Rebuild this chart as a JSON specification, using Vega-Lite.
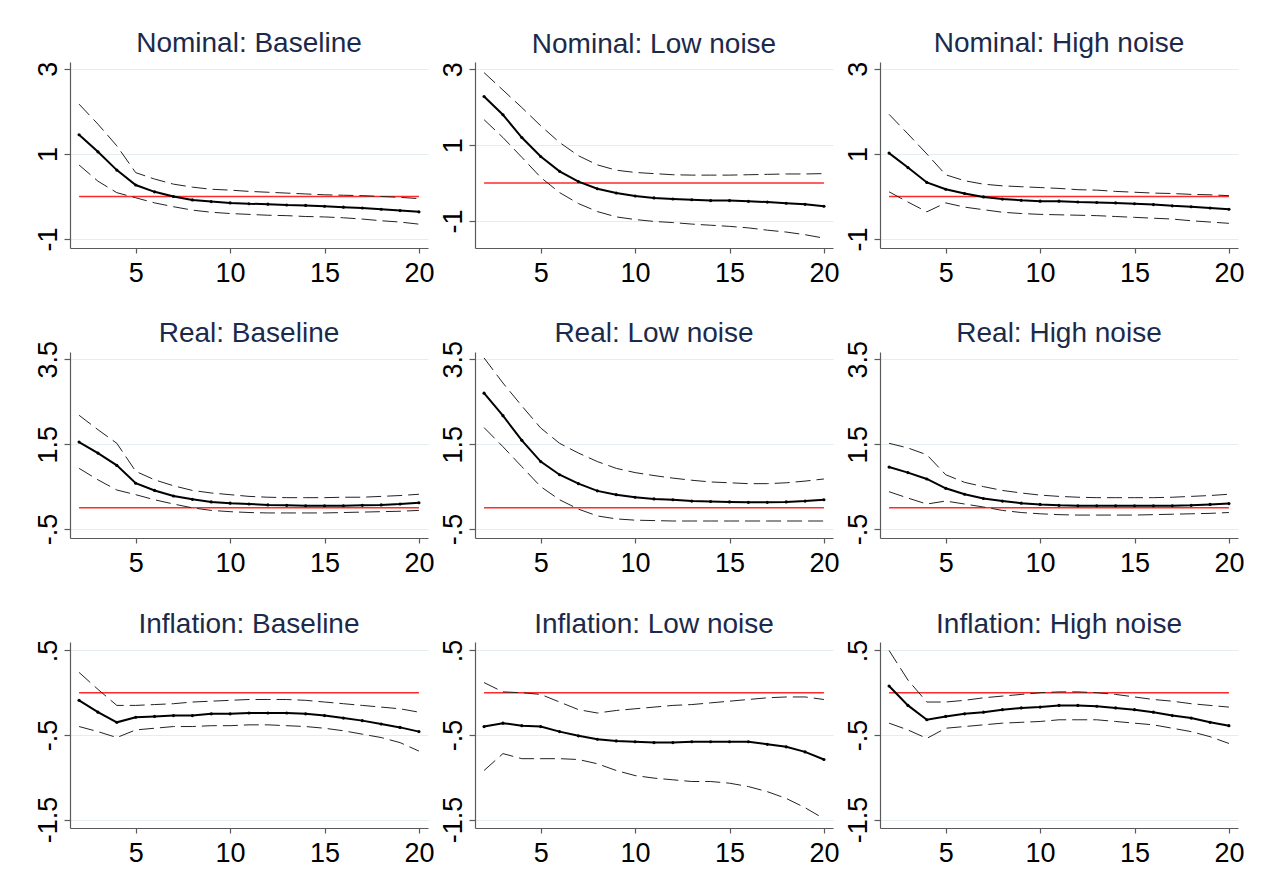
{
  "$schema": "https://vega.github.io/schema/vega-lite/v6.json",
  "padding": {"left": 34, "top": 30, "right": 10, "bottom": 5},
  "background": "white",
  "datasets": {
    "irf": [
      {"panel":"Nominal: Baseline","h":2,"est":1.45,"lo":0.74,"hi":2.17},
      {"panel":"Nominal: Baseline","h":3,"est":1.05,"lo":0.36,"hi":1.70},
      {"panel":"Nominal: Baseline","h":4,"est":0.62,"lo":0.09,"hi":1.19},
      {"panel":"Nominal: Baseline","h":5,"est":0.27,"lo":-0.03,"hi":0.56},
      {"panel":"Nominal: Baseline","h":6,"est":0.11,"lo":-0.15,"hi":0.41},
      {"panel":"Nominal: Baseline","h":7,"est":0.00,"lo":-0.24,"hi":0.29},
      {"panel":"Nominal: Baseline","h":8,"est":-0.08,"lo":-0.32,"hi":0.22},
      {"panel":"Nominal: Baseline","h":9,"est":-0.12,"lo":-0.37,"hi":0.17},
      {"panel":"Nominal: Baseline","h":10,"est":-0.15,"lo":-0.40,"hi":0.15},
      {"panel":"Nominal: Baseline","h":11,"est":-0.17,"lo":-0.42,"hi":0.12},
      {"panel":"Nominal: Baseline","h":12,"est":-0.18,"lo":-0.44,"hi":0.10},
      {"panel":"Nominal: Baseline","h":13,"est":-0.20,"lo":-0.45,"hi":0.08},
      {"panel":"Nominal: Baseline","h":14,"est":-0.21,"lo":-0.47,"hi":0.06},
      {"panel":"Nominal: Baseline","h":15,"est":-0.23,"lo":-0.48,"hi":0.04},
      {"panel":"Nominal: Baseline","h":16,"est":-0.25,"lo":-0.50,"hi":0.03},
      {"panel":"Nominal: Baseline","h":17,"est":-0.27,"lo":-0.53,"hi":0.02},
      {"panel":"Nominal: Baseline","h":18,"est":-0.30,"lo":-0.57,"hi":0.00},
      {"panel":"Nominal: Baseline","h":19,"est":-0.33,"lo":-0.60,"hi":-0.02},
      {"panel":"Nominal: Baseline","h":20,"est":-0.36,"lo":-0.65,"hi":-0.05},

      {"panel":"Nominal: Low noise","h":2,"est":2.28,"lo":1.67,"hi":2.91},
      {"panel":"Nominal: Low noise","h":3,"est":1.80,"lo":1.20,"hi":2.45},
      {"panel":"Nominal: Low noise","h":4,"est":1.20,"lo":0.68,"hi":1.99},
      {"panel":"Nominal: Low noise","h":5,"est":0.70,"lo":0.15,"hi":1.51},
      {"panel":"Nominal: Low noise","h":6,"est":0.31,"lo":-0.25,"hi":1.07},
      {"panel":"Nominal: Low noise","h":7,"est":0.04,"lo":-0.54,"hi":0.72},
      {"panel":"Nominal: Low noise","h":8,"est":-0.15,"lo":-0.75,"hi":0.48},
      {"panel":"Nominal: Low noise","h":9,"est":-0.26,"lo":-0.89,"hi":0.34},
      {"panel":"Nominal: Low noise","h":10,"est":-0.34,"lo":-0.96,"hi":0.28},
      {"panel":"Nominal: Low noise","h":11,"est":-0.39,"lo":-1.01,"hi":0.25},
      {"panel":"Nominal: Low noise","h":12,"est":-0.42,"lo":-1.04,"hi":0.22},
      {"panel":"Nominal: Low noise","h":13,"est":-0.44,"lo":-1.08,"hi":0.21},
      {"panel":"Nominal: Low noise","h":14,"est":-0.46,"lo":-1.11,"hi":0.21},
      {"panel":"Nominal: Low noise","h":15,"est":-0.46,"lo":-1.14,"hi":0.21},
      {"panel":"Nominal: Low noise","h":16,"est":-0.48,"lo":-1.18,"hi":0.22},
      {"panel":"Nominal: Low noise","h":17,"est":-0.50,"lo":-1.24,"hi":0.23},
      {"panel":"Nominal: Low noise","h":18,"est":-0.53,"lo":-1.29,"hi":0.24},
      {"panel":"Nominal: Low noise","h":19,"est":-0.56,"lo":-1.36,"hi":0.24},
      {"panel":"Nominal: Low noise","h":20,"est":-0.61,"lo":-1.45,"hi":0.25},

      {"panel":"Nominal: High noise","h":2,"est":1.02,"lo":0.11,"hi":1.93},
      {"panel":"Nominal: High noise","h":3,"est":0.68,"lo":-0.13,"hi":1.47},
      {"panel":"Nominal: High noise","h":4,"est":0.33,"lo":-0.36,"hi":1.00},
      {"panel":"Nominal: High noise","h":5,"est":0.17,"lo":-0.15,"hi":0.51},
      {"panel":"Nominal: High noise","h":6,"est":0.07,"lo":-0.25,"hi":0.37},
      {"panel":"Nominal: High noise","h":7,"est":-0.01,"lo":-0.31,"hi":0.29},
      {"panel":"Nominal: High noise","h":8,"est":-0.06,"lo":-0.37,"hi":0.25},
      {"panel":"Nominal: High noise","h":9,"est":-0.09,"lo":-0.40,"hi":0.23},
      {"panel":"Nominal: High noise","h":10,"est":-0.11,"lo":-0.42,"hi":0.21},
      {"panel":"Nominal: High noise","h":11,"est":-0.11,"lo":-0.43,"hi":0.19},
      {"panel":"Nominal: High noise","h":12,"est":-0.13,"lo":-0.44,"hi":0.16},
      {"panel":"Nominal: High noise","h":13,"est":-0.14,"lo":-0.45,"hi":0.15},
      {"panel":"Nominal: High noise","h":14,"est":-0.15,"lo":-0.47,"hi":0.12},
      {"panel":"Nominal: High noise","h":15,"est":-0.17,"lo":-0.49,"hi":0.10},
      {"panel":"Nominal: High noise","h":16,"est":-0.19,"lo":-0.51,"hi":0.08},
      {"panel":"Nominal: High noise","h":17,"est":-0.22,"lo":-0.53,"hi":0.07},
      {"panel":"Nominal: High noise","h":18,"est":-0.24,"lo":-0.57,"hi":0.05},
      {"panel":"Nominal: High noise","h":19,"est":-0.27,"lo":-0.60,"hi":0.04},
      {"panel":"Nominal: High noise","h":20,"est":-0.30,"lo":-0.63,"hi":0.02},

      {"panel":"Real: Baseline","h":2,"est":1.55,"lo":0.93,"hi":2.18},
      {"panel":"Real: Baseline","h":3,"est":1.29,"lo":0.66,"hi":1.84},
      {"panel":"Real: Baseline","h":4,"est":1.00,"lo":0.42,"hi":1.52},
      {"panel":"Real: Baseline","h":5,"est":0.58,"lo":0.31,"hi":0.86},
      {"panel":"Real: Baseline","h":6,"est":0.41,"lo":0.19,"hi":0.66},
      {"panel":"Real: Baseline","h":7,"est":0.28,"lo":0.09,"hi":0.52},
      {"panel":"Real: Baseline","h":8,"est":0.20,"lo":0.00,"hi":0.41},
      {"panel":"Real: Baseline","h":9,"est":0.14,"lo":-0.06,"hi":0.35},
      {"panel":"Real: Baseline","h":10,"est":0.11,"lo":-0.09,"hi":0.31},
      {"panel":"Real: Baseline","h":11,"est":0.09,"lo":-0.11,"hi":0.27},
      {"panel":"Real: Baseline","h":12,"est":0.07,"lo":-0.12,"hi":0.25},
      {"panel":"Real: Baseline","h":13,"est":0.06,"lo":-0.12,"hi":0.24},
      {"panel":"Real: Baseline","h":14,"est":0.05,"lo":-0.12,"hi":0.24},
      {"panel":"Real: Baseline","h":15,"est":0.05,"lo":-0.12,"hi":0.24},
      {"panel":"Real: Baseline","h":16,"est":0.05,"lo":-0.11,"hi":0.25},
      {"panel":"Real: Baseline","h":17,"est":0.06,"lo":-0.10,"hi":0.25},
      {"panel":"Real: Baseline","h":18,"est":0.07,"lo":-0.09,"hi":0.27},
      {"panel":"Real: Baseline","h":19,"est":0.09,"lo":-0.08,"hi":0.29},
      {"panel":"Real: Baseline","h":20,"est":0.12,"lo":-0.06,"hi":0.32},

      {"panel":"Real: Low noise","h":2,"est":2.70,"lo":1.89,"hi":3.53},
      {"panel":"Real: Low noise","h":3,"est":2.17,"lo":1.44,"hi":2.94},
      {"panel":"Real: Low noise","h":4,"est":1.59,"lo":0.97,"hi":2.40},
      {"panel":"Real: Low noise","h":5,"est":1.09,"lo":0.50,"hi":1.88},
      {"panel":"Real: Low noise","h":6,"est":0.78,"lo":0.19,"hi":1.52},
      {"panel":"Real: Low noise","h":7,"est":0.57,"lo":-0.03,"hi":1.29},
      {"panel":"Real: Low noise","h":8,"est":0.40,"lo":-0.19,"hi":1.09},
      {"panel":"Real: Low noise","h":9,"est":0.31,"lo":-0.26,"hi":0.93},
      {"panel":"Real: Low noise","h":10,"est":0.25,"lo":-0.29,"hi":0.83},
      {"panel":"Real: Low noise","h":11,"est":0.21,"lo":-0.30,"hi":0.76},
      {"panel":"Real: Low noise","h":12,"est":0.19,"lo":-0.31,"hi":0.70},
      {"panel":"Real: Low noise","h":13,"est":0.16,"lo":-0.31,"hi":0.65},
      {"panel":"Real: Low noise","h":14,"est":0.15,"lo":-0.31,"hi":0.61},
      {"panel":"Real: Low noise","h":15,"est":0.14,"lo":-0.31,"hi":0.59},
      {"panel":"Real: Low noise","h":16,"est":0.13,"lo":-0.31,"hi":0.57},
      {"panel":"Real: Low noise","h":17,"est":0.13,"lo":-0.31,"hi":0.57},
      {"panel":"Real: Low noise","h":18,"est":0.14,"lo":-0.31,"hi":0.59},
      {"panel":"Real: Low noise","h":19,"est":0.16,"lo":-0.31,"hi":0.63},
      {"panel":"Real: Low noise","h":20,"est":0.19,"lo":-0.31,"hi":0.68},

      {"panel":"Real: High noise","h":2,"est":0.96,"lo":0.38,"hi":1.52},
      {"panel":"Real: High noise","h":3,"est":0.83,"lo":0.23,"hi":1.41},
      {"panel":"Real: High noise","h":4,"est":0.68,"lo":0.09,"hi":1.25},
      {"panel":"Real: High noise","h":5,"est":0.46,"lo":0.16,"hi":0.78},
      {"panel":"Real: High noise","h":6,"est":0.32,"lo":0.09,"hi":0.60},
      {"panel":"Real: High noise","h":7,"est":0.22,"lo":0.02,"hi":0.50},
      {"panel":"Real: High noise","h":8,"est":0.16,"lo":-0.06,"hi":0.41},
      {"panel":"Real: High noise","h":9,"est":0.11,"lo":-0.11,"hi":0.35},
      {"panel":"Real: High noise","h":10,"est":0.08,"lo":-0.14,"hi":0.30},
      {"panel":"Real: High noise","h":11,"est":0.06,"lo":-0.16,"hi":0.27},
      {"panel":"Real: High noise","h":12,"est":0.05,"lo":-0.17,"hi":0.25},
      {"panel":"Real: High noise","h":13,"est":0.05,"lo":-0.17,"hi":0.24},
      {"panel":"Real: High noise","h":14,"est":0.05,"lo":-0.17,"hi":0.24},
      {"panel":"Real: High noise","h":15,"est":0.05,"lo":-0.17,"hi":0.24},
      {"panel":"Real: High noise","h":16,"est":0.05,"lo":-0.16,"hi":0.24},
      {"panel":"Real: High noise","h":17,"est":0.05,"lo":-0.15,"hi":0.25},
      {"panel":"Real: High noise","h":18,"est":0.06,"lo":-0.14,"hi":0.27},
      {"panel":"Real: High noise","h":19,"est":0.08,"lo":-0.13,"hi":0.29},
      {"panel":"Real: High noise","h":20,"est":0.10,"lo":-0.11,"hi":0.32},

      {"panel":"Inflation: Baseline","h":2,"est":-0.09,"lo":-0.40,"hi":0.24},
      {"panel":"Inflation: Baseline","h":3,"est":-0.23,"lo":-0.46,"hi":0.04},
      {"panel":"Inflation: Baseline","h":4,"est":-0.35,"lo":-0.53,"hi":-0.15},
      {"panel":"Inflation: Baseline","h":5,"est":-0.29,"lo":-0.44,"hi":-0.15},
      {"panel":"Inflation: Baseline","h":6,"est":-0.28,"lo":-0.42,"hi":-0.14},
      {"panel":"Inflation: Baseline","h":7,"est":-0.27,"lo":-0.40,"hi":-0.13},
      {"panel":"Inflation: Baseline","h":8,"est":-0.27,"lo":-0.40,"hi":-0.11},
      {"panel":"Inflation: Baseline","h":9,"est":-0.25,"lo":-0.39,"hi":-0.10},
      {"panel":"Inflation: Baseline","h":10,"est":-0.25,"lo":-0.39,"hi":-0.09},
      {"panel":"Inflation: Baseline","h":11,"est":-0.24,"lo":-0.38,"hi":-0.08},
      {"panel":"Inflation: Baseline","h":12,"est":-0.24,"lo":-0.38,"hi":-0.08},
      {"panel":"Inflation: Baseline","h":13,"est":-0.24,"lo":-0.39,"hi":-0.08},
      {"panel":"Inflation: Baseline","h":14,"est":-0.25,"lo":-0.40,"hi":-0.09},
      {"panel":"Inflation: Baseline","h":15,"est":-0.27,"lo":-0.42,"hi":-0.11},
      {"panel":"Inflation: Baseline","h":16,"est":-0.30,"lo":-0.45,"hi":-0.13},
      {"panel":"Inflation: Baseline","h":17,"est":-0.33,"lo":-0.49,"hi":-0.15},
      {"panel":"Inflation: Baseline","h":18,"est":-0.37,"lo":-0.53,"hi":-0.17},
      {"panel":"Inflation: Baseline","h":19,"est":-0.41,"lo":-0.59,"hi":-0.19},
      {"panel":"Inflation: Baseline","h":20,"est":-0.46,"lo":-0.69,"hi":-0.23},

      {"panel":"Inflation: Low noise","h":2,"est":-0.40,"lo":-0.92,"hi":0.12},
      {"panel":"Inflation: Low noise","h":3,"est":-0.36,"lo":-0.72,"hi":0.01},
      {"panel":"Inflation: Low noise","h":4,"est":-0.39,"lo":-0.78,"hi":0.00},
      {"panel":"Inflation: Low noise","h":5,"est":-0.40,"lo":-0.78,"hi":-0.02},
      {"panel":"Inflation: Low noise","h":6,"est":-0.46,"lo":-0.78,"hi":-0.11},
      {"panel":"Inflation: Low noise","h":7,"est":-0.51,"lo":-0.79,"hi":-0.20},
      {"panel":"Inflation: Low noise","h":8,"est":-0.55,"lo":-0.84,"hi":-0.24},
      {"panel":"Inflation: Low noise","h":9,"est":-0.57,"lo":-0.92,"hi":-0.21},
      {"panel":"Inflation: Low noise","h":10,"est":-0.58,"lo":-0.98,"hi":-0.19},
      {"panel":"Inflation: Low noise","h":11,"est":-0.59,"lo":-1.01,"hi":-0.17},
      {"panel":"Inflation: Low noise","h":12,"est":-0.59,"lo":-1.03,"hi":-0.15},
      {"panel":"Inflation: Low noise","h":13,"est":-0.58,"lo":-1.05,"hi":-0.14},
      {"panel":"Inflation: Low noise","h":14,"est":-0.58,"lo":-1.05,"hi":-0.12},
      {"panel":"Inflation: Low noise","h":15,"est":-0.58,"lo":-1.07,"hi":-0.10},
      {"panel":"Inflation: Low noise","h":16,"est":-0.58,"lo":-1.11,"hi":-0.08},
      {"panel":"Inflation: Low noise","h":17,"est":-0.61,"lo":-1.17,"hi":-0.06},
      {"panel":"Inflation: Low noise","h":18,"est":-0.64,"lo":-1.25,"hi":-0.05},
      {"panel":"Inflation: Low noise","h":19,"est":-0.70,"lo":-1.36,"hi":-0.05},
      {"panel":"Inflation: Low noise","h":20,"est":-0.79,"lo":-1.49,"hi":-0.08},

      {"panel":"Inflation: High noise","h":2,"est":0.08,"lo":-0.36,"hi":0.50},
      {"panel":"Inflation: High noise","h":3,"est":-0.15,"lo":-0.44,"hi":0.15},
      {"panel":"Inflation: High noise","h":4,"est":-0.32,"lo":-0.54,"hi":-0.11},
      {"panel":"Inflation: High noise","h":5,"est":-0.28,"lo":-0.42,"hi":-0.11},
      {"panel":"Inflation: High noise","h":6,"est":-0.25,"lo":-0.40,"hi":-0.09},
      {"panel":"Inflation: High noise","h":7,"est":-0.23,"lo":-0.38,"hi":-0.06},
      {"panel":"Inflation: High noise","h":8,"est":-0.20,"lo":-0.36,"hi":-0.04},
      {"panel":"Inflation: High noise","h":9,"est":-0.18,"lo":-0.35,"hi":-0.02},
      {"panel":"Inflation: High noise","h":10,"est":-0.17,"lo":-0.34,"hi":0.00},
      {"panel":"Inflation: High noise","h":11,"est":-0.15,"lo":-0.32,"hi":0.01},
      {"panel":"Inflation: High noise","h":12,"est":-0.15,"lo":-0.32,"hi":0.01},
      {"panel":"Inflation: High noise","h":13,"est":-0.16,"lo":-0.32,"hi":0.00},
      {"panel":"Inflation: High noise","h":14,"est":-0.18,"lo":-0.34,"hi":-0.02},
      {"panel":"Inflation: High noise","h":15,"est":-0.20,"lo":-0.36,"hi":-0.05},
      {"panel":"Inflation: High noise","h":16,"est":-0.23,"lo":-0.38,"hi":-0.08},
      {"panel":"Inflation: High noise","h":17,"est":-0.27,"lo":-0.42,"hi":-0.10},
      {"panel":"Inflation: High noise","h":18,"est":-0.30,"lo":-0.46,"hi":-0.13},
      {"panel":"Inflation: High noise","h":19,"est":-0.35,"lo":-0.52,"hi":-0.15},
      {"panel":"Inflation: High noise","h":20,"est":-0.39,"lo":-0.60,"hi":-0.17}
    ]
  },
  "data": {"name": "irf"},
  "columns": 3,
  "bounds": "flush",
  "spacing": {"row": 104, "column": 47},
  "concat": [
    {
      "title": {"text": "Nominal: Baseline", "offset": 3},
      "width": 358, "height": 186,
      "transform": [{"filter": "datum.panel === 'Nominal: Baseline'"}],
      "encoding": {"x": {"field": "h", "type": "quantitative", "title": null, "scale": {"domain": [1.52, 20.48], "nice": false, "zero": false}, "axis": {"values": [5, 10, 15, 20]}}},
      "layer": [
        {"mark": {"type": "rule", "color": "#ff2a2a", "strokeWidth": 1.5}, "encoding": {"x": {"aggregate": "min", "field": "h", "type": "quantitative", "title": null}, "x2": {"aggregate": "max", "field": "h"}, "y": {"datum": 0, "type": "quantitative"}}},
        {"mark": {"type": "line", "color": "#222", "strokeWidth": 1, "strokeDash": [15, 6]}, "encoding": {"y": {"field": "hi", "type": "quantitative", "title": null, "scale": {"domain": [-1.21, 3.16], "nice": false, "zero": false}, "axis": {"values": [-1, 1, 3]}}}},
        {"mark": {"type": "line", "color": "#222", "strokeWidth": 1, "strokeDash": [15, 6]}, "encoding": {"y": {"field": "lo", "type": "quantitative", "title": null, "scale": {"domain": [-1.21, 3.16], "nice": false, "zero": false}, "axis": {"values": [-1, 1, 3]}}}},
        {"mark": {"type": "line", "color": "#000", "strokeWidth": 2, "point": {"filled": true, "size": 10, "color": "#000"}}, "encoding": {"y": {"field": "est", "type": "quantitative", "title": null, "scale": {"domain": [-1.21, 3.16], "nice": false, "zero": false}, "axis": {"values": [-1, 1, 3]}}}}
      ]
    },
    {
      "title": {"text": "Nominal: Low noise", "offset": 3},
      "width": 358, "height": 186,
      "transform": [{"filter": "datum.panel === 'Nominal: Low noise'"}],
      "encoding": {"x": {"field": "h", "type": "quantitative", "title": null, "scale": {"domain": [1.52, 20.48], "nice": false, "zero": false}, "axis": {"values": [5, 10, 15, 20]}}},
      "layer": [
        {"mark": {"type": "rule", "color": "#ff2a2a", "strokeWidth": 1.5}, "encoding": {"x": {"aggregate": "min", "field": "h", "type": "quantitative", "title": null}, "x2": {"aggregate": "max", "field": "h"}, "y": {"datum": 0, "type": "quantitative"}}},
        {"mark": {"type": "line", "color": "#222", "strokeWidth": 1, "strokeDash": [15, 6]}, "encoding": {"y": {"field": "hi", "type": "quantitative", "title": null, "scale": {"domain": [-1.71, 3.19], "nice": false, "zero": false}, "axis": {"values": [-1, 1, 3]}}}},
        {"mark": {"type": "line", "color": "#222", "strokeWidth": 1, "strokeDash": [15, 6]}, "encoding": {"y": {"field": "lo", "type": "quantitative", "title": null, "scale": {"domain": [-1.71, 3.19], "nice": false, "zero": false}, "axis": {"values": [-1, 1, 3]}}}},
        {"mark": {"type": "line", "color": "#000", "strokeWidth": 2, "point": {"filled": true, "size": 10, "color": "#000"}}, "encoding": {"y": {"field": "est", "type": "quantitative", "title": null, "scale": {"domain": [-1.71, 3.19], "nice": false, "zero": false}, "axis": {"values": [-1, 1, 3]}}}}
      ]
    },
    {
      "title": {"text": "Nominal: High noise", "offset": 3},
      "width": 358, "height": 186,
      "transform": [{"filter": "datum.panel === 'Nominal: High noise'"}],
      "encoding": {"x": {"field": "h", "type": "quantitative", "title": null, "scale": {"domain": [1.52, 20.48], "nice": false, "zero": false}, "axis": {"values": [5, 10, 15, 20]}}},
      "layer": [
        {"mark": {"type": "rule", "color": "#ff2a2a", "strokeWidth": 1.5}, "encoding": {"x": {"aggregate": "min", "field": "h", "type": "quantitative", "title": null}, "x2": {"aggregate": "max", "field": "h"}, "y": {"datum": 0, "type": "quantitative"}}},
        {"mark": {"type": "line", "color": "#222", "strokeWidth": 1, "strokeDash": [15, 6]}, "encoding": {"y": {"field": "hi", "type": "quantitative", "title": null, "scale": {"domain": [-1.21, 3.16], "nice": false, "zero": false}, "axis": {"values": [-1, 1, 3]}}}},
        {"mark": {"type": "line", "color": "#222", "strokeWidth": 1, "strokeDash": [15, 6]}, "encoding": {"y": {"field": "lo", "type": "quantitative", "title": null, "scale": {"domain": [-1.21, 3.16], "nice": false, "zero": false}, "axis": {"values": [-1, 1, 3]}}}},
        {"mark": {"type": "line", "color": "#000", "strokeWidth": 2, "point": {"filled": true, "size": 10, "color": "#000"}}, "encoding": {"y": {"field": "est", "type": "quantitative", "title": null, "scale": {"domain": [-1.21, 3.16], "nice": false, "zero": false}, "axis": {"values": [-1, 1, 3]}}}}
      ]
    },
    {
      "title": {"text": "Real: Baseline", "offset": -8},
      "width": 358, "height": 186,
      "transform": [{"filter": "datum.panel === 'Real: Baseline'"}],
      "encoding": {"x": {"field": "h", "type": "quantitative", "title": null, "scale": {"domain": [1.52, 20.48], "nice": false, "zero": false}, "axis": {"values": [5, 10, 15, 20]}}},
      "layer": [
        {"mark": {"type": "rule", "color": "#ff2a2a", "strokeWidth": 1.5}, "encoding": {"x": {"aggregate": "min", "field": "h", "type": "quantitative", "title": null}, "x2": {"aggregate": "max", "field": "h"}, "y": {"datum": 0, "type": "quantitative"}}},
        {"mark": {"type": "line", "color": "#222", "strokeWidth": 1, "strokeDash": [15, 6]}, "encoding": {"y": {"field": "hi", "type": "quantitative", "title": null, "scale": {"domain": [-0.71, 3.67], "nice": false, "zero": false}, "axis": {"values": [-0.5, 1.5, 3.5]}}}},
        {"mark": {"type": "line", "color": "#222", "strokeWidth": 1, "strokeDash": [15, 6]}, "encoding": {"y": {"field": "lo", "type": "quantitative", "title": null, "scale": {"domain": [-0.71, 3.67], "nice": false, "zero": false}, "axis": {"values": [-0.5, 1.5, 3.5]}}}},
        {"mark": {"type": "line", "color": "#000", "strokeWidth": 2, "point": {"filled": true, "size": 10, "color": "#000"}}, "encoding": {"y": {"field": "est", "type": "quantitative", "title": null, "scale": {"domain": [-0.71, 3.67], "nice": false, "zero": false}, "axis": {"values": [-0.5, 1.5, 3.5]}}}}
      ]
    },
    {
      "title": {"text": "Real: Low noise", "offset": -8},
      "width": 358, "height": 186,
      "transform": [{"filter": "datum.panel === 'Real: Low noise'"}],
      "encoding": {"x": {"field": "h", "type": "quantitative", "title": null, "scale": {"domain": [1.52, 20.48], "nice": false, "zero": false}, "axis": {"values": [5, 10, 15, 20]}}},
      "layer": [
        {"mark": {"type": "rule", "color": "#ff2a2a", "strokeWidth": 1.5}, "encoding": {"x": {"aggregate": "min", "field": "h", "type": "quantitative", "title": null}, "x2": {"aggregate": "max", "field": "h"}, "y": {"datum": 0, "type": "quantitative"}}},
        {"mark": {"type": "line", "color": "#222", "strokeWidth": 1, "strokeDash": [15, 6]}, "encoding": {"y": {"field": "hi", "type": "quantitative", "title": null, "scale": {"domain": [-0.71, 3.67], "nice": false, "zero": false}, "axis": {"values": [-0.5, 1.5, 3.5]}}}},
        {"mark": {"type": "line", "color": "#222", "strokeWidth": 1, "strokeDash": [15, 6]}, "encoding": {"y": {"field": "lo", "type": "quantitative", "title": null, "scale": {"domain": [-0.71, 3.67], "nice": false, "zero": false}, "axis": {"values": [-0.5, 1.5, 3.5]}}}},
        {"mark": {"type": "line", "color": "#000", "strokeWidth": 2, "point": {"filled": true, "size": 10, "color": "#000"}}, "encoding": {"y": {"field": "est", "type": "quantitative", "title": null, "scale": {"domain": [-0.71, 3.67], "nice": false, "zero": false}, "axis": {"values": [-0.5, 1.5, 3.5]}}}}
      ]
    },
    {
      "title": {"text": "Real: High noise", "offset": -8},
      "width": 358, "height": 186,
      "transform": [{"filter": "datum.panel === 'Real: High noise'"}],
      "encoding": {"x": {"field": "h", "type": "quantitative", "title": null, "scale": {"domain": [1.52, 20.48], "nice": false, "zero": false}, "axis": {"values": [5, 10, 15, 20]}}},
      "layer": [
        {"mark": {"type": "rule", "color": "#ff2a2a", "strokeWidth": 1.5}, "encoding": {"x": {"aggregate": "min", "field": "h", "type": "quantitative", "title": null}, "x2": {"aggregate": "max", "field": "h"}, "y": {"datum": 0, "type": "quantitative"}}},
        {"mark": {"type": "line", "color": "#222", "strokeWidth": 1, "strokeDash": [15, 6]}, "encoding": {"y": {"field": "hi", "type": "quantitative", "title": null, "scale": {"domain": [-0.71, 3.67], "nice": false, "zero": false}, "axis": {"values": [-0.5, 1.5, 3.5]}}}},
        {"mark": {"type": "line", "color": "#222", "strokeWidth": 1, "strokeDash": [15, 6]}, "encoding": {"y": {"field": "lo", "type": "quantitative", "title": null, "scale": {"domain": [-0.71, 3.67], "nice": false, "zero": false}, "axis": {"values": [-0.5, 1.5, 3.5]}}}},
        {"mark": {"type": "line", "color": "#000", "strokeWidth": 2, "point": {"filled": true, "size": 10, "color": "#000"}}, "encoding": {"y": {"field": "est", "type": "quantitative", "title": null, "scale": {"domain": [-0.71, 3.67], "nice": false, "zero": false}, "axis": {"values": [-0.5, 1.5, 3.5]}}}}
      ]
    },
    {
      "title": {"text": "Inflation: Baseline", "offset": 0},
      "width": 358, "height": 186,
      "transform": [{"filter": "datum.panel === 'Inflation: Baseline'"}],
      "encoding": {"x": {"field": "h", "type": "quantitative", "title": null, "scale": {"domain": [1.52, 20.48], "nice": false, "zero": false}, "axis": {"values": [5, 10, 15, 20]}}},
      "layer": [
        {"mark": {"type": "rule", "color": "#ff2a2a", "strokeWidth": 1.5}, "encoding": {"x": {"aggregate": "min", "field": "h", "type": "quantitative", "title": null}, "x2": {"aggregate": "max", "field": "h"}, "y": {"datum": 0, "type": "quantitative"}}},
        {"mark": {"type": "line", "color": "#222", "strokeWidth": 1, "strokeDash": [15, 6]}, "encoding": {"y": {"field": "hi", "type": "quantitative", "title": null, "scale": {"domain": [-1.6, 0.6], "nice": false, "zero": false}, "axis": {"values": [-1.5, -0.5, 0.5]}}}},
        {"mark": {"type": "line", "color": "#222", "strokeWidth": 1, "strokeDash": [15, 6]}, "encoding": {"y": {"field": "lo", "type": "quantitative", "title": null, "scale": {"domain": [-1.6, 0.6], "nice": false, "zero": false}, "axis": {"values": [-1.5, -0.5, 0.5]}}}},
        {"mark": {"type": "line", "color": "#000", "strokeWidth": 2, "point": {"filled": true, "size": 10, "color": "#000"}}, "encoding": {"y": {"field": "est", "type": "quantitative", "title": null, "scale": {"domain": [-1.6, 0.6], "nice": false, "zero": false}, "axis": {"values": [-1.5, -0.5, 0.5]}}}}
      ]
    },
    {
      "title": {"text": "Inflation: Low noise", "offset": 0},
      "width": 358, "height": 186,
      "transform": [{"filter": "datum.panel === 'Inflation: Low noise'"}],
      "encoding": {"x": {"field": "h", "type": "quantitative", "title": null, "scale": {"domain": [1.52, 20.48], "nice": false, "zero": false}, "axis": {"values": [5, 10, 15, 20]}}},
      "layer": [
        {"mark": {"type": "rule", "color": "#ff2a2a", "strokeWidth": 1.5}, "encoding": {"x": {"aggregate": "min", "field": "h", "type": "quantitative", "title": null}, "x2": {"aggregate": "max", "field": "h"}, "y": {"datum": 0, "type": "quantitative"}}},
        {"mark": {"type": "line", "color": "#222", "strokeWidth": 1, "strokeDash": [15, 6]}, "encoding": {"y": {"field": "hi", "type": "quantitative", "title": null, "scale": {"domain": [-1.6, 0.6], "nice": false, "zero": false}, "axis": {"values": [-1.5, -0.5, 0.5]}}}},
        {"mark": {"type": "line", "color": "#222", "strokeWidth": 1, "strokeDash": [15, 6]}, "encoding": {"y": {"field": "lo", "type": "quantitative", "title": null, "scale": {"domain": [-1.6, 0.6], "nice": false, "zero": false}, "axis": {"values": [-1.5, -0.5, 0.5]}}}},
        {"mark": {"type": "line", "color": "#000", "strokeWidth": 2, "point": {"filled": true, "size": 10, "color": "#000"}}, "encoding": {"y": {"field": "est", "type": "quantitative", "title": null, "scale": {"domain": [-1.6, 0.6], "nice": false, "zero": false}, "axis": {"values": [-1.5, -0.5, 0.5]}}}}
      ]
    },
    {
      "title": {"text": "Inflation: High noise", "offset": 0},
      "width": 358, "height": 186,
      "transform": [{"filter": "datum.panel === 'Inflation: High noise'"}],
      "encoding": {"x": {"field": "h", "type": "quantitative", "title": null, "scale": {"domain": [1.52, 20.48], "nice": false, "zero": false}, "axis": {"values": [5, 10, 15, 20]}}},
      "layer": [
        {"mark": {"type": "rule", "color": "#ff2a2a", "strokeWidth": 1.5}, "encoding": {"x": {"aggregate": "min", "field": "h", "type": "quantitative", "title": null}, "x2": {"aggregate": "max", "field": "h"}, "y": {"datum": 0, "type": "quantitative"}}},
        {"mark": {"type": "line", "color": "#222", "strokeWidth": 1, "strokeDash": [15, 6]}, "encoding": {"y": {"field": "hi", "type": "quantitative", "title": null, "scale": {"domain": [-1.6, 0.6], "nice": false, "zero": false}, "axis": {"values": [-1.5, -0.5, 0.5]}}}},
        {"mark": {"type": "line", "color": "#222", "strokeWidth": 1, "strokeDash": [15, 6]}, "encoding": {"y": {"field": "lo", "type": "quantitative", "title": null, "scale": {"domain": [-1.6, 0.6], "nice": false, "zero": false}, "axis": {"values": [-1.5, -0.5, 0.5]}}}},
        {"mark": {"type": "line", "color": "#000", "strokeWidth": 2, "point": {"filled": true, "size": 10, "color": "#000"}}, "encoding": {"y": {"field": "est", "type": "quantitative", "title": null, "scale": {"domain": [-1.6, 0.6], "nice": false, "zero": false}, "axis": {"values": [-1.5, -0.5, 0.5]}}}}
      ]
    }
  ],
  "config": {
    "font": "Liberation Sans",
    "view": {"stroke": null},
    "title": {"fontSize": 28, "fontWeight": "normal", "color": "#1b2a4a", "anchor": "middle", "frame": "group", "baseline": "alphabetic"},
    "axis": {"domainColor": "#5a5a5a", "tickColor": "#5a5a5a", "labelColor": "#000", "labelFontSize": 27, "labelFont": "Liberation Sans", "labelOverlap": false, "labelFlush": false, "domainWidth": 1.2, "tickWidth": 1.2},
    "axisX": {"grid": false, "tickSize": 5, "labelPadding": 7},
    "axisY": {"grid": true, "gridColor": "#e4eef0", "gridWidth": 1, "tickSize": 6, "labelAngle": 270, "labelAlign": "center", "labelBaseline": "alphabetic", "labelPadding": 8, "labelExpr": "replace(toString(datum.value), '0.', '.')"}
  }
}
